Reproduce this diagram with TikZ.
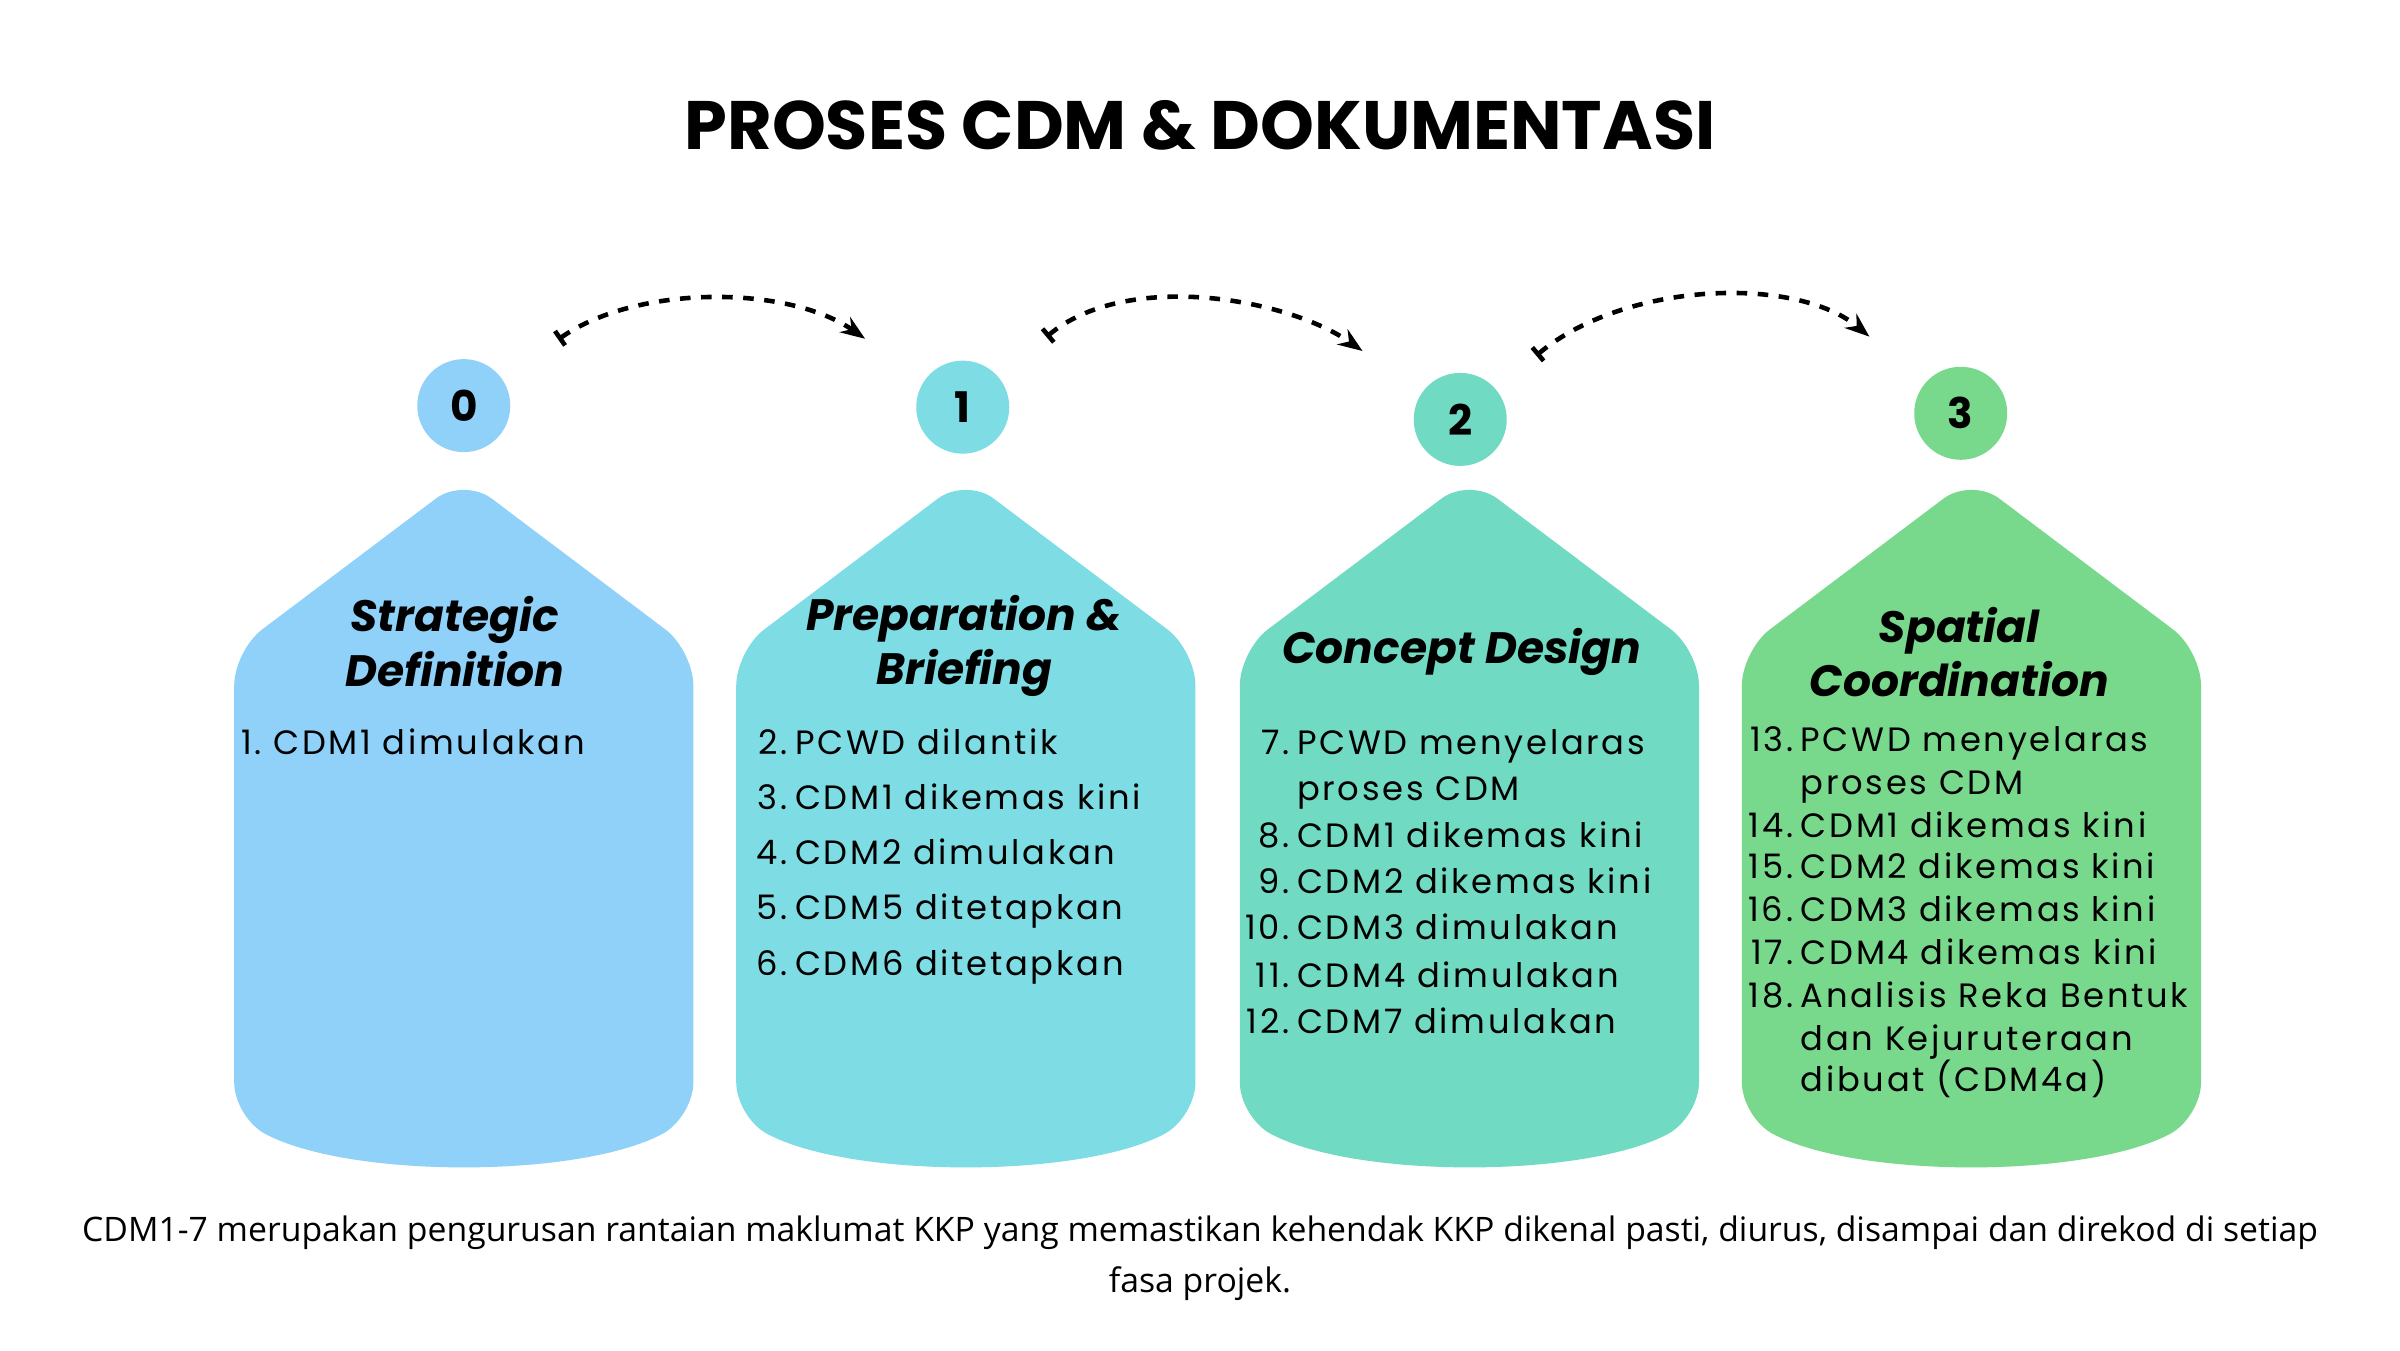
\documentclass[tikz,border=0pt]{standalone}
\usepackage{fontspec}
\setmainfont{Poppins}
\newfontfamily\listfont[LetterSpace=8]{Poppins}
\newfontfamily\notefont{Open Sans}
\usetikzlibrary{arrows.meta,calc}
\definecolor{fasaA}{HTML}{8FD1F8}
\definecolor{fasaB}{HTML}{7DDCE4}
\definecolor{fasaC}{HTML}{70DAC2}
\definecolor{fasaD}{HTML}{78D98D}
\newcommand\fasa[2]{%
  \fill[#2, rounded corners=0.35cm] (#1,312) -- (#1+150,425) -- (#1+150,730)
    .. controls (#1+75,770) and (#1-75,770) .. (#1-150,730) -- (#1-150,425) -- cycle;}
\begin{document}
\begin{tikzpicture}[x=0.0153061cm, y=-0.0153061cm,
  num/.style = {circle, minimum size=0.93cm, inner sep=0pt, font=\bfseries\large},
  head/.style = {font=\bfseries\itshape\fontsize{12.5}{15.5}\selectfont, align=center},
  item/.style = {font=\listfont\fontsize{9.6}{11}\selectfont, inner sep=0pt},
  link/.style = {dashed, line width=1.3pt, {Bar[width=5pt]}-{Stealth[length=7pt]}}]
  \useasboundingbox (0,0) rectangle (1568,882);
  \node[font=\bfseries\fontsize{19.5}{22}\selectfont] (title) at (784,82) {PROSES CDM \& DOKUMENTASI};

  % phase boxes
  \fasa{303}{fasaA}
  \fasa{631}{fasaB}
  \fasa{960}{fasaC}
  \fasa{1288}{fasaD}

  % phase numbers
  \node[num, fill=fasaA] (c0) at (303,265) {0};
  \node[num, fill=fasaB] (c1) at (629,266) {1};
  \node[num, fill=fasaC] (c2) at (954,274) {2};
  \node[num, fill=fasaD] (c3) at (1281,270) {3};

  \draw[link, shorten <=0.68cm, shorten >=0.72cm] (c0) to[out=35, in=145] (c1);
  \draw[link, shorten <=0.62cm, shorten >=0.72cm] (c1) to[out=40, in=145] (c2);
  \draw[link, shorten <=0.52cm, shorten >=0.72cm] (c2) to[out=40, in=140] (c3);

  % headings
  \node[head] (h0) at (297,419) {Strategic\\Definition};
  \node[head] (h1) at (630,422) {Preparation \&\\Briefing};
  \node[head] (h2) at (955,426) {Concept Design};
  \node[head] (h3) at (1280,426) {Spatial\\Coordination};

  % lists
  \foreach \y/\n/\t in {486/1./CDM1 dimulakan}
    \node[item, anchor=base west] at (157,\y+7) {\n~\t};
  \foreach \y/\n/\t in {486/2./PCWD dilantik, 522/3./CDM1 dikemas kini,
      558/4./CDM2 dimulakan, 594/5./CDM5 ditetapkan, 630/6./CDM6 ditetapkan}
    {\node[item, anchor=base east] at (515,\y+7) {\n};
     \node[item, anchor=base west] at (519,\y+7) {\t};}
  \foreach \y/\n/\t in {486/7./PCWD menyelaras, 516//proses CDM, 547/8./CDM1 dikemas kini,
      577/9./CDM2 dikemas kini, 607/10./CDM3 dimulakan, 638/11./CDM4 dimulakan,
      668/12./CDM7 dimulakan}
    {\node[item, anchor=base east] at (843,\y+7) {\n};
     \node[item, anchor=base west] at (847,\y+7) {\t};}
  \foreach \y/\n/\t in {484/13./PCWD menyelaras, 512//proses CDM, 540/14./CDM1 dikemas kini,
      567/15./CDM2 dikemas kini, 595/16./CDM3 dikemas kini, 623/17./CDM4 dikemas kini,
      651/18./Analisis Reka Bentuk, 679//dan Kejuruteraan, 706//dibuat (CDM4a)}
    {\node[item, anchor=base east] at (1172,\y+7) {\n};
     \node[item, anchor=base west] at (1176,\y+7) {\t};}

  \node[font=\notefont\fontsize{9.6}{14.6}\selectfont, align=center] (note) at (784,822)
    {CDM1-7 merupakan pengurusan rantaian maklumat KKP yang memastikan kehendak KKP dikenal pasti, diurus, disampai dan direkod di setiap\\fasa projek.};
\end{tikzpicture}
\end{document}
